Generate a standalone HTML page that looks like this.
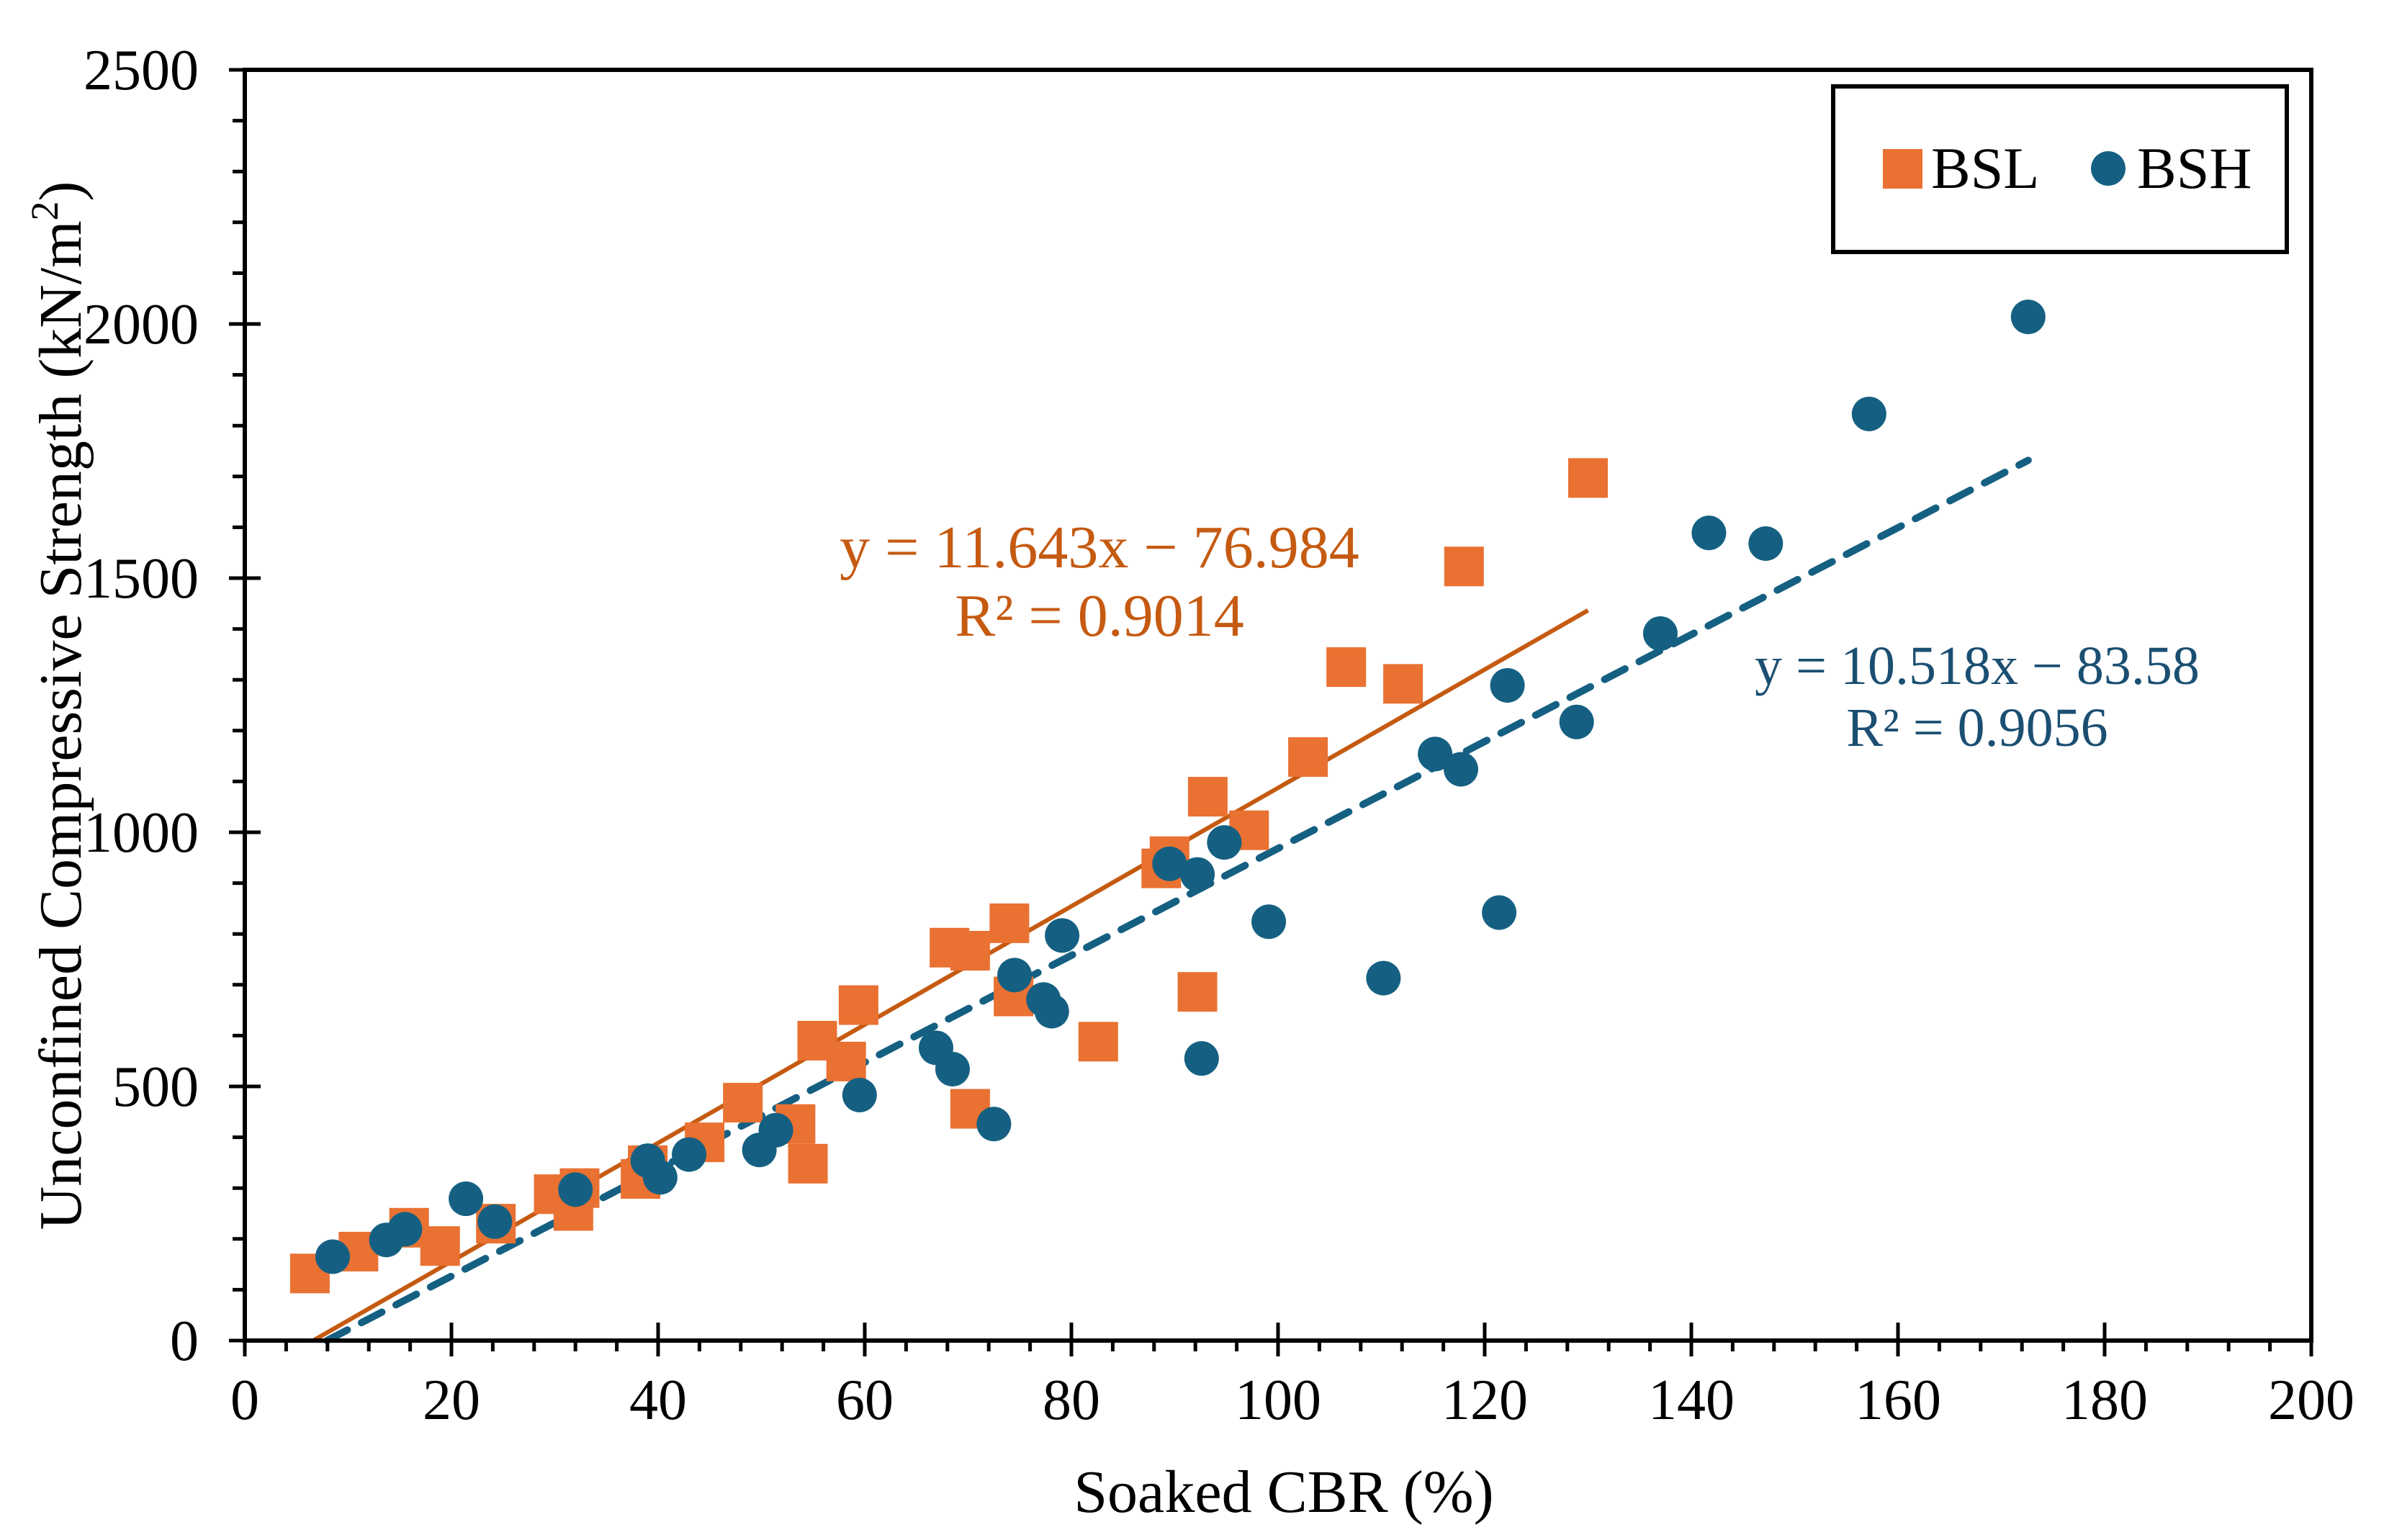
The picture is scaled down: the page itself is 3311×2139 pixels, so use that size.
<!DOCTYPE html>
<html><head><meta charset="utf-8"><style>
html,body{margin:0;padding:0;background:#fff;}
svg{display:block;font-family:"Liberation Serif",serif;}
</style></head><body>
<svg id="chart" width="3311" height="2139" viewBox="0 0 3311 2139" xmlns="http://www.w3.org/2000/svg">
<rect width="3311" height="2139" fill="#fff"/>
<g id="trend"></g>
<g id="marks"></g>
<g id="axes"></g>
<text transform="translate(112,980) rotate(-90)" text-anchor="middle" font-size="84">Unconfined Compressive Strength (kN/m<tspan font-size="54" dy="-32">2</tspan><tspan dy="32">)</tspan></text>
<text x="1783" y="2100" text-anchor="middle" font-size="84">Soaked CBR (%)</text>
<text x="1527" y="788" text-anchor="middle" font-size="84" fill="#C55A11">y = 11.643x − 76.984</text>
<text x="1527" y="883" text-anchor="middle" font-size="84" fill="#C55A11">R² = 0.9014</text>
<text x="2746" y="950" text-anchor="middle" font-size="76" fill="#1B4F72">y = 10.518x − 83.58</text>
<text x="2746" y="1036" text-anchor="middle" font-size="76" fill="#1B4F72">R² = 0.9056</text>
<g>
<rect x="2546" y="120" width="630" height="230" fill="#fff" stroke="#000" stroke-width="6"/>
<rect x="2615" y="207" width="55" height="55" fill="#E97132"/>
<text x="2682" y="261" font-size="82">BSL</text>
<circle cx="2928" cy="234" r="24" fill="#156082"/>
<text x="2968" y="261" font-size="82">BSH</text>
</g>
</svg>
<script>
const bslX=[6.3,11,15.9,18.9,24.3,29.9,32.4,31.8,38.3,39,44.5,48.2,53.3,54.5,55.4,58.2,59.4,68.2,70.2,70.2,74,74.4,82.6,88.7,89.5,92.2,93.2,97.2,102.9,106.6,112.1,118,130];
const bslY=[132,175,222,186,230,288,300,255,318,345,390,468,426,348,590,549,660,773,767,456,821,677,588,929,953,686,1070,1004,1148,1325,1292,1523,1697];
const bshX=[8.5,13.7,15.5,21.4,24.2,32,39,40.2,43,49.8,51.4,59.5,66.9,68.5,72.5,74.5,77.3,78.1,79.1,89.5,92.2,92.6,94.8,99.1,110.2,115.2,117.7,121.4,122.2,128.9,137,141.7,147.2,157.2,172.6];
const bshY=[165,198,219,279,234,297,354,321,366,375,414,483,576,534,426,719,671,648,797,938,917,555,980,824,713,1154,1124,842,1289,1217,1391,1589,1568,1823,2014];
const bslFit=[11.643,-76.984];
const bshFit=[10.518,-83.58];
const xTicks=[0,20,40,60,80,100,120,140,160,180,200];
const yTicks=[0,500,1000,1500,2000,2500];
const NS='http://www.w3.org/2000/svg';
const X0=340,X1=3210,Y0=1862,Y1=97;
const sx=v=>X0+(v-0)/(200-0)*(X1-X0);
const sy=v=>Y0-(v-0)/(2500-0)*(Y0-Y1);
function mk(tag,attrs,parent){const e=document.createElementNS(NS,tag);for(const k in attrs)e.setAttribute(k,attrs[k]);parent.appendChild(e);return e;}
const marks=document.getElementById('marks'),axes=document.getElementById('axes'),trend=document.getElementById('trend');
bslX.forEach((x,i)=>{const e=mk('rect',{x:sx(x)-27.5,y:sy(bslY[i])-27.5,width:55,height:55,fill:'#E97132'},marks);

});
bshX.forEach((x,i)=>{const e=mk('circle',{cx:sx(x),cy:sy(bshY[i]),r:24,fill:'#156082'},marks);

});
function fitLine(fit,xmax,attrs,name){const xs=-fit[1]/fit[0];const e=mk('line',Object.assign({x1:sx(xs),y1:sy(0),x2:sx(xmax),y2:sy(fit[0]*xmax+fit[1])},attrs),trend);

}
fitLine(bslFit,Math.max(...bslX),{stroke:'#C55A11','stroke-width':6},'bsl-trendline');
fitLine(bshFit,Math.max(...bshX),{stroke:'#156082','stroke-width':10,'stroke-dasharray':'32 22','stroke-linecap':'round'},'bsh-trendline');
const frame=mk('rect',{x:X0,y:Y1,width:X1-X0,height:Y0-Y1,fill:'none',stroke:'#000','stroke-width':6},axes);


for(let v=0;v<=200;v+=4){const maj=v%20===0;const t=mk('line',{x1:sx(v),x2:sx(v),y1:maj?Y0-25:Y0,y2:Y0+(maj?22:15),stroke:'#000','stroke-width':5},axes);

}
for(let v=0;v<=2500;v+=100){const maj=v%500===0;const t=mk('line',{x1:X0-(maj?22:17),x2:maj?X0+22:X0,y1:sy(v),y2:sy(v),stroke:'#000','stroke-width':5},axes);

}
xTicks.forEach(v=>{const t=mk('text',{x:sx(v),y:1971,'text-anchor':'middle','font-size':80},axes);t.textContent=v;

});
yTicks.forEach(v=>{const t=mk('text',{x:276,y:sy(v)+27,'text-anchor':'end','font-size':80},axes);t.textContent=v;

});
</script>
</body></html>
